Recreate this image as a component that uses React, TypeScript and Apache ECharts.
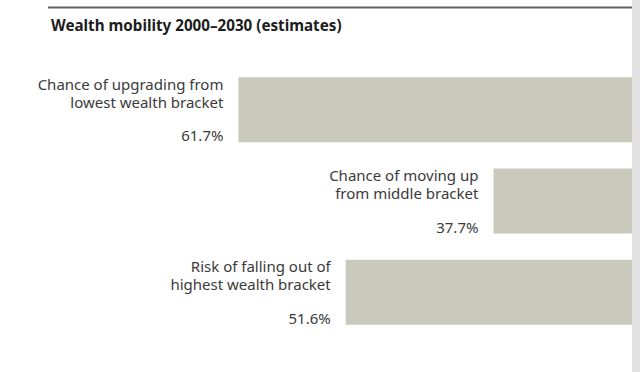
import React, { useEffect, useRef } from "react";
import * as echarts from "echarts";

const title = "Wealth mobility 2000–2030 (estimates)";
const categories = [
  "Chance of upgrading from\nlowest wealth bracket",
  "Chance of moving up\nfrom middle bracket",
  "Risk of falling out of\nhighest wealth bracket",
];
const values = [61.7, 37.7, 51.6];

export default function App() {
  const ref = useRef<HTMLDivElement>(null);
  useEffect(() => {
    if (!ref.current) return;
    const chart = echarts.init(ref.current, null, { renderer: "svg" });
    const font = "'Noto Sans', sans-serif";
    chart.setOption({
      animation: false,
      backgroundColor: "#ffffff",
      title: {
        text: title,
        left: 46,
        top: 12,
        textStyle: { fontFamily: font, fontSize: 15.2, fontWeight: "bold", color: "#1c1c1c" },
      },
      grid: { left: 44, width: 850, top: 64, height: 274, outerBoundsMode: "none", containLabel: false },
      xAxis: {
        type: "value",
        inverse: true,
        min: 0,
        max: 80,
        show: false,
      },
      yAxis: {
        type: "category",
        inverse: true,
        data: categories,
        show: false,
      },
      series: [
        {
          type: "bar",
          data: values,
          barWidth: 65,
          itemStyle: { color: "#c9c9bc" },
          label: {
            show: true,
            position: "left",
            distance: 15,
            offset: [0, 7.6],
            align: "right",
            formatter: (p: any) => {
              const lines = String(categories[p.dataIndex]).split("\n");
              return lines.map((l) => `{n|${l}}`).join("\n") + `\n{p|${values[p.dataIndex].toFixed(1)}%}`;
            },
            rich: {
              n: { fontFamily: font, fontSize: 15, lineHeight: 18, color: "#3a3a3a", align: "right" },
              p: { fontFamily: font, fontSize: 15, lineHeight: 49, color: "#3a3a3a", align: "right" },
            },
          },
        },
      ],
      graphic: [
        {
          type: "line",
          shape: { x1: 48, y1: 7.5, x2: 632, y2: 7.5 },
          style: { stroke: "#606060", lineWidth: 2 },
          z: 10,
        },
        {
          type: "rect",
          shape: { x: 632, y: 0, width: 8, height: 372 },
          style: { fill: "#e2e2e2" },
          z: 10,
        },
      ],
    });
    return () => chart.dispose();
  }, []);
  return (
    <div
      ref={ref}
      style={{ position: "fixed", left: 0, top: 0, width: 640, height: 372 }}
    />
  );
}
